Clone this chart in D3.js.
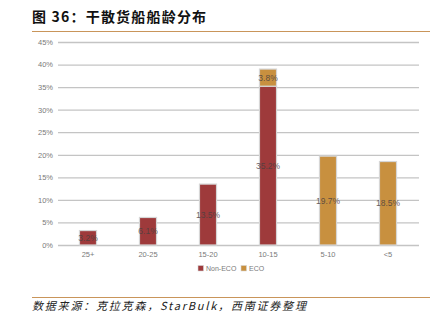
<!DOCTYPE html>
<html>
<head>
<meta charset="utf-8">
<script src="https://cdn.jsdelivr.net/npm/d3@7"></script>
<style>
  html, body { margin: 0; padding: 0; background: #fff; }
  svg { display: block; }
</style>
</head>
<body>
<svg id="chart" width="439" height="326"></svg>
<script>
// Fleet age bands (years) and share of dry bulk fleet, %
const categories = ["25+", "20-25", "15-20", "10-15", "5-10", "<5"];
const nonEco = [3.2, 6.1, 13.5, 35.2, 0, 0];
const eco = [0, 0, 0, 3.8, 19.7, 18.5];
const yTicks = [0, 5, 10, 15, 20, 25, 30, 35, 40, 45];
const seriesNames = ["Non-ECO", "ECO"];

const colors = { "Non-ECO": "#9e3a3b", "ECO": "#c8903f" };
const cjk = "'Noto Sans CJK SC', 'Noto Sans', sans-serif";
const latin = "'Liberation Sans', Arial, sans-serif";

const svg = d3.select("#chart");

// Header
svg.append("text")
  .attr("x", 32).attr("y", 22)
  .attr("font-family", cjk).attr("font-weight", "bold")
  .attr("font-size", 14).attr("letter-spacing", 1.2).attr("fill", "#111")
  .text("图 36：干散货船船龄分布");
svg.append("line")
  .attr("x1", 32).attr("x2", 430).attr("y1", 31.5).attr("y2", 31.5)
  .attr("stroke", "#c9955a").attr("stroke-width", 1);

// Scales
const x = d3.scaleBand().domain(categories).range([58, 418]).paddingInner(0.716).paddingOuter(0.358);
const y = d3.scaleLinear().domain([0, 45]).range([245, 42]);

// Grid lines and y labels
const yAxis = svg.append("g")
  .attr("transform", "translate(58,0)")
  .call(d3.axisLeft(y).tickValues(yTicks).tickSize(-361).tickFormat(d => d + "%").tickPadding(5));
yAxis.select(".domain").remove();
yAxis.selectAll(".tick line").attr("stroke", "#c4c4c4").attr("stroke-width", 1.3);
yAxis.selectAll(".tick text").attr("font-family", latin).attr("font-size", 7.5).attr("fill", "#7a7a7a");

// x labels
const xAxis = svg.append("g")
  .attr("transform", "translate(0,245)")
  .call(d3.axisBottom(x).tickSize(0).tickPadding(7));
xAxis.select(".domain").remove();
xAxis.selectAll(".tick text").attr("font-family", latin).attr("font-size", 7.5).attr("fill", "#7a7a7a");

// Stacked bars
const rows = categories.map((c, i) => ({ cat: c, "Non-ECO": nonEco[i], "ECO": eco[i] }));
const stack = d3.stack().keys(seriesNames)(rows);

const layers = svg.append("g").selectAll("g").data(stack).join("g")
  .attr("fill", d => colors[d.key]);
layers.selectAll("rect")
  .data(d => d.filter(s => s[1] - s[0] > 0))
  .join("rect")
  .attr("x", d => x(d.data.cat))
  .attr("width", x.bandwidth())
  .attr("y", d => y(d[1]))
  .attr("height", d => y(d[0]) - y(d[1]))
  .attr("stroke", "#d6d6d6").attr("stroke-width", 1.2);

// Value labels centred in each segment
layers.selectAll("text")
  .data(d => d.filter(s => s[1] - s[0] > 0).map(s => ({ s, key: d.key })))
  .join("text")
  .attr("x", d => x(d.s.data.cat) + x.bandwidth() / 2)
  .attr("y", d => (y(d.s[0]) + y(d.s[1])) / 2 + 3)
  .attr("text-anchor", "middle")
  .attr("font-family", latin).attr("font-size", 8.5)
  .attr("fill", "#4a4040").attr("fill-opacity", 0.85)
  .text(d => (d.s[1] - d.s[0]).toFixed(1) + "%");

// Legend
const legend = svg.append("g").attr("transform", "translate(198,271)");
const items = [{ k: "Non-ECO", x: 0 }, { k: "ECO", x: 43 }];
items.forEach(it => {
  legend.append("rect").attr("x", it.x).attr("y", -5.5).attr("width", 5.5).attr("height", 5.5)
    .attr("fill", colors[it.k]).attr("stroke", "#d6d6d6").attr("stroke-width", 0.6);
  legend.append("text").attr("x", it.x + 8).attr("y", 0)
    .attr("font-family", latin).attr("font-size", 7).attr("fill", "#7a7a7a").text(it.k);
});

// Footer
svg.append("line")
  .attr("x1", 32).attr("x2", 430).attr("y1", 297.5).attr("y2", 297.5)
  .attr("stroke", "#c9955a").attr("stroke-width", 1);
svg.append("text")
  .attr("x", 32).attr("y", 310)
  .attr("font-family", cjk).attr("font-style", "italic")
  .attr("font-size", 11).attr("letter-spacing", 1.8).attr("fill", "#222")
  .text("数据来源：克拉克森，StarBulk，西南证券整理");
</script>
</body>
</html>
